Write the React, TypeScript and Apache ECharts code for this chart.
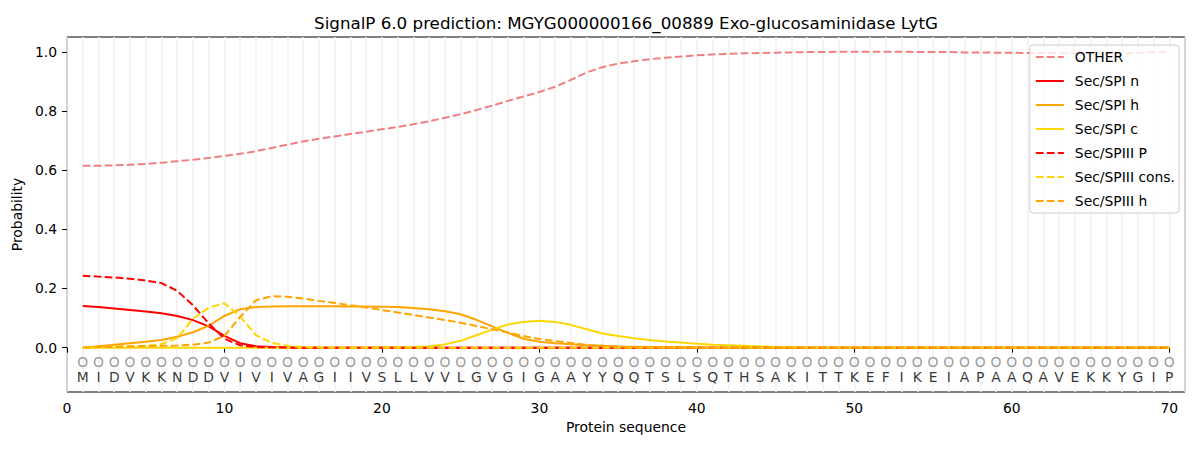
import React, { useEffect, useRef } from "react";
import * as echarts from "echarts";

const sequence = "MIDVKKNDDVIVIVAGIIVSLLVVLGVGIGAAYYQQTSLSQTHSAKITTKEFIKEIAPAAQAVEKKYGIP".split("");
const positions = sequence.map((_, i) => i + 1);

const otherVals = [
  0.615, 0.615, 0.616, 0.618, 0.621, 0.625, 0.630, 0.635, 0.641, 0.648,
  0.655, 0.664, 0.675, 0.686, 0.697, 0.706, 0.714, 0.722, 0.730, 0.738,
  0.746, 0.755, 0.765, 0.777, 0.789, 0.803, 0.818, 0.834, 0.849, 0.864,
  0.882, 0.905, 0.930, 0.948, 0.960, 0.968, 0.975, 0.980, 0.984, 0.988,
  0.991, 0.993, 0.995, 0.996, 0.997, 0.998, 0.999, 0.999, 1.0, 1.0,
  1.0, 1.0, 1.0, 0.999, 0.999, 0.999, 0.998, 0.998, 0.997, 0.997,
  0.996, 0.996, 0.995, 0.995, 0.995, 0.994, 0.995, 0.996, 0.998, 1.0,
];
const spiN = [
  0.141, 0.137, 0.132, 0.127, 0.122, 0.116, 0.107, 0.093, 0.072, 0.040,
  0.015, 0.005, 0.002, 0.001, 0, 0, 0, 0, 0, 0,
  0, 0, 0, 0, 0, 0, 0, 0, 0, 0,
  0, 0, 0, 0, 0, 0, 0, 0, 0, 0,
  0, 0, 0, 0, 0, 0, 0, 0, 0, 0,
  0, 0, 0, 0, 0, 0, 0, 0, 0, 0,
  0, 0, 0, 0, 0, 0, 0, 0, 0, 0,
];
const spiH = [
  0.0, 0.005, 0.010, 0.015, 0.020, 0.026, 0.037, 0.052, 0.074, 0.107,
  0.130, 0.137, 0.139, 0.140, 0.140, 0.140, 0.140, 0.139, 0.139, 0.138,
  0.137, 0.134, 0.130, 0.123, 0.113, 0.094, 0.072, 0.050, 0.030, 0.020,
  0.015, 0.011, 0.008, 0.006, 0.004, 0.003, 0.002, 0.001, 0.001, 0.001,
  0, 0, 0, 0, 0, 0, 0, 0, 0, 0,
  0, 0, 0, 0, 0, 0, 0, 0, 0, 0,
  0, 0, 0, 0, 0, 0, 0, 0, 0, 0,
];
const spiC = [
  0, 0, 0, 0, 0, 0, 0, 0, 0, 0,
  0, 0, 0, 0, 0, 0, 0, 0, 0, 0.001,
  0.001, 0.002, 0.005, 0.011, 0.023, 0.042, 0.061, 0.078, 0.087, 0.091,
  0.087, 0.077, 0.062, 0.048, 0.039, 0.032, 0.026, 0.021, 0.017, 0.013,
  0.010, 0.008, 0.006, 0.004, 0.002, 0.001, 0, 0, 0, 0,
  0, 0, 0, 0, 0, 0, 0, 0, 0, 0,
  0, 0, 0, 0, 0, 0, 0, 0, 0, 0,
];
const spiiiP = [
  0.243, 0.240, 0.237, 0.233, 0.227, 0.218, 0.192, 0.143, 0.082, 0.030,
  0.008, 0.002, 0.001, 0, 0, 0, 0, 0, 0, 0,
  0, 0, 0, 0, 0, 0, 0, 0, 0, 0,
  0, 0, 0, 0, 0, 0, 0, 0, 0, 0,
  0, 0, 0, 0, 0, 0, 0, 0, 0, 0,
  0, 0, 0, 0, 0, 0, 0, 0, 0, 0,
  0, 0, 0, 0, 0, 0, 0, 0, 0, 0,
];
const spiiiCons = [
  0.001, 0.002, 0.003, 0.004, 0.006, 0.012, 0.032, 0.098, 0.135, 0.150,
  0.105, 0.042, 0.016, 0.006, 0.002, 0.001, 0, 0, 0, 0,
  0, 0, 0, 0, 0, 0, 0, 0, 0, 0,
  0, 0, 0, 0, 0, 0, 0, 0, 0, 0,
  0, 0, 0, 0, 0, 0, 0, 0, 0, 0,
  0, 0, 0, 0, 0, 0, 0, 0, 0, 0,
  0, 0, 0, 0, 0, 0, 0, 0, 0, 0,
];
const spiiiH = [
  0.0, 0.002, 0.003, 0.004, 0.005, 0.006, 0.007, 0.010, 0.017, 0.040,
  0.104, 0.160, 0.174, 0.172, 0.166, 0.158, 0.151, 0.143, 0.136, 0.127,
  0.119, 0.110, 0.102, 0.093, 0.084, 0.073, 0.062, 0.051, 0.039, 0.029,
  0.022, 0.016, 0.009, 0.006, 0.003, 0.002, 0.001, 0, 0, 0,
  0, 0, 0, 0, 0, 0, 0, 0, 0, 0,
  0, 0, 0, 0, 0, 0, 0, 0, 0, 0,
  0, 0, 0, 0, 0, 0, 0, 0, 0, 0,
];

const xTicks = [0, 10, 20, 30, 40, 50, 60, 70];
const yTicks = [0, 0.2, 0.4, 0.6, 0.8, 1.0];

const FONT = "DejaVu Sans";
const DASH = [7.7, 3.3];

const seriesDefs = [
  { name: "OTHER", data: otherVals, color: "#F08080", dashed: true },
  { name: "Sec/SPI n", data: spiN, color: "#FF0000", dashed: false },
  { name: "Sec/SPI h", data: spiH, color: "#FFA500", dashed: false },
  { name: "Sec/SPI c", data: spiC, color: "#FFD700", dashed: false },
  { name: "Sec/SPIII P", data: spiiiP, color: "#FF0000", dashed: true },
  { name: "Sec/SPIII cons.", data: spiiiCons, color: "#FFD700", dashed: true },
  { name: "Sec/SPIII h", data: spiiiH, color: "#FFA500", dashed: true },
];

export default function App() {
  const ref = useRef<HTMLDivElement>(null);
  useEffect(() => {
    document.body.style.margin = "0";
    const chart = echarts.init(ref.current!, null, { renderer: "svg" });
    const lineSeries = seriesDefs.map((s) => ({
      name: s.name,
      type: "line",
      xAxisIndex: 0,
      yAxisIndex: 0,
      data: positions.map((p, i) => [p, s.data[i]]),
      symbol: "none",
      showSymbol: false,
      smooth: false,
      color: s.color,
      lineStyle: { color: s.color, width: 2, type: s.dashed ? DASH : "solid" },
      z: 3,
    }));
    const option = {
      animation: false,
      textStyle: { fontFamily: FONT },
      graphic: [
        {
          type: "text",
          x: 626,
          y: 23,
          style: {
            text: "SignalP 6.0 prediction: MGYG000000166_00889 Exo-glucosaminidase LytG",
            fontFamily: FONT,
            fontSize: 16.7,
            fill: "#000",
            textAlign: "center",
            textVerticalAlign: "middle",
          },
        },
      ],
      grid: {
        left: 67,
        right: 15,
        top: 37,
        bottom: 58,
        show: true,
        borderColor: "#000",
        borderWidth: 1,
        backgroundColor: "transparent",
      },
      legend: {
        orient: "vertical",
        right: 21,
        top: 45,
        padding: [5, 4, 5, 5],
        itemWidth: 28,
        itemHeight: 14,
        itemGap: 10,
        backgroundColor: "rgba(255,255,255,0.8)",
        borderColor: "#cccccc",
        borderWidth: 1,
        borderRadius: 3,
        itemStyle: { opacity: 0, borderWidth: 0 },
        textStyle: { fontFamily: FONT, fontSize: 13.9, color: "#000", padding: [0, 0, 0, 6] },
        data: seriesDefs.map((s) => s.name),
      },
      xAxis: [
        {
          type: "value",
          min: 0,
          max: 71,
          name: "Protein sequence",
          nameLocation: "middle",
          nameGap: 28,
          nameTextStyle: { fontFamily: FONT, fontSize: 13.9, color: "#000" },
          axisLine: { show: false },
          axisTick: { show: true, customValues: xTicks, length: 5, lineStyle: { color: "#000" } },
          axisLabel: {
            customValues: xTicks,
            margin: 9,
            fontFamily: FONT,
            fontSize: 13.9,
            color: "#000",
          },
          splitLine: { show: false },
        },
        {
          type: "value",
          min: 0,
          max: 71,
          interval: 1,
          position: "bottom",
          axisLine: { show: false },
          axisTick: { show: false },
          axisLabel: { show: false },
          splitLine: { show: true, lineStyle: { color: "#f0f0f0", width: 1.5 } },
        },
      ],
      yAxis: {
        type: "value",
        min: -0.15,
        max: 1.05,
        name: "Probability",
        nameLocation: "middle",
        nameGap: 38,
        nameRotate: 90,
        nameTextStyle: { fontFamily: FONT, fontSize: 13.9, color: "#000" },
        axisLine: { show: false },
        axisTick: { show: true, customValues: yTicks, length: 5, lineStyle: { color: "#000" } },
        axisLabel: {
          customValues: yTicks,
          margin: 10,
          fontFamily: FONT,
          fontSize: 13.9,
          color: "#000",
          formatter: (v: number) => v.toFixed(1),
        },
        splitLine: { show: false },
      },
      series: [
        ...lineSeries,
        {
          type: "scatter",
          name: "markers",
          xAxisIndex: 0,
          yAxisIndex: 0,
          data: positions.map((p) => [p, -0.047]),
          symbolSize: 1,
          itemStyle: { color: "rgba(0,0,0,0)" },
          silent: true,
          label: {
            show: true,
            position: "inside",
            formatter: () => "O",
            fontFamily: FONT,
            fontSize: 13.9,
            color: "#808080",
          },
          z: 4,
        },
        {
          type: "scatter",
          name: "letters",
          xAxisIndex: 0,
          yAxisIndex: 0,
          data: positions.map((p, i) => [p, -0.1, sequence[i]]),
          symbolSize: 1,
          itemStyle: { color: "rgba(0,0,0,0)" },
          silent: true,
          label: {
            show: true,
            position: "inside",
            formatter: (pr: any) => pr.value[2],
            fontFamily: FONT,
            fontSize: 13.9,
            color: "#000",
          },
          z: 4,
        },
      ],
    };
    chart.setOption(option as any);
    return () => chart.dispose();
  }, []);
  return <div ref={ref} style={{ width: 1200, height: 450 }} />;
}
